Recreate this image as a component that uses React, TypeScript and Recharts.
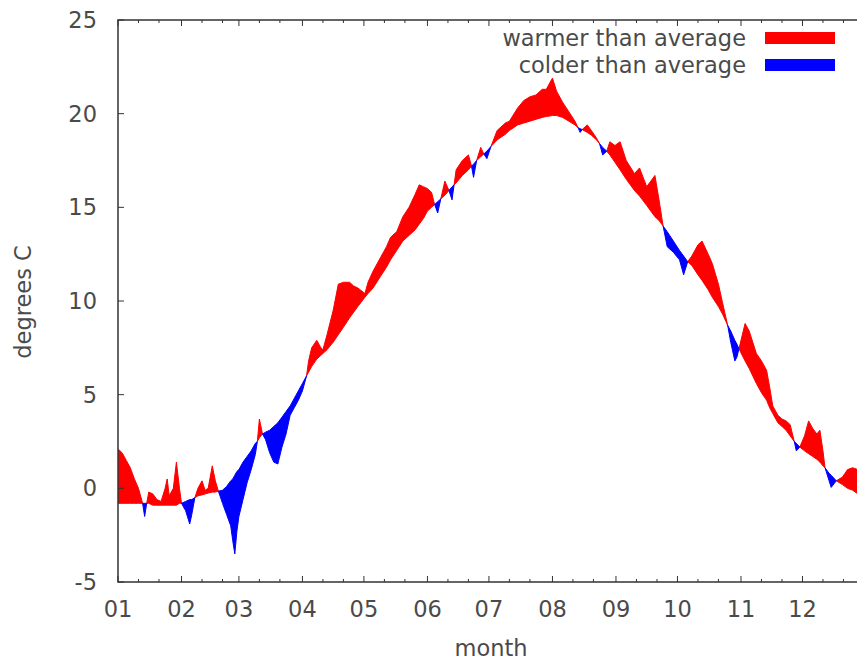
import { Area, ComposedChart, Legend, ReferenceArea, XAxis, YAxis } from "recharts";

// day of year (0 = 1 Jan), long-term average and observed temperature, degrees C
const dayOfYear = [
  0, 2, 4, 6, 8, 10, 12, 13, 14, 15, 17, 19, 21, 23, 24, 25, 27, 28.5, 30, 31,
  33, 35, 36, 37.5, 39, 41, 42.5, 44, 46, 47.5, 49, 51, 53, 55, 56, 57, 58, 59, 61, 63,
  65, 67, 68, 69, 70.5, 72, 74, 76, 78, 80, 82, 84, 86, 88, 90, 92, 93, 94.5, 97, 99,
  100, 102, 105, 107.5, 110, 113, 115, 117, 120.5, 122, 124.5, 128, 131, 133, 136, 139, 142, 145, 147, 149,
  151, 153, 154.5, 156, 157.5, 159.5, 161.5, 163, 164, 165, 168, 171, 172.5, 173.5, 175, 177, 178.5, 180, 182, 185,
  189, 191, 195, 198, 201, 204, 207, 209, 212, 214, 217, 220, 223, 224.5, 225.5, 226.5, 229, 231, 233.5, 235,
  236.5, 238.5, 240, 242.5, 245, 248, 252, 254.5, 258, 262, 264, 266, 268, 271, 274, 276, 278, 280, 283, 285,
  288, 290, 293, 295, 297.5, 299, 301, 302, 303, 306, 308, 311.5, 314, 316.5, 318, 319.5, 322, 324, 326, 328,
  330, 331, 332.7, 335, 337, 339, 341, 342.5, 344, 345, 347, 348, 350.5, 353.5, 356, 358.5, 361, 363, 365,
];

const averageTemp = [
  -0.8, -0.8, -0.8, -0.8, -0.8, -0.8, -0.8, -0.8, -0.8, -0.8, -0.9, -0.9, -0.9, -0.9, -0.9, -0.9, -0.9, -0.9, -0.8, -0.8,
  -0.7, -0.6, -0.6, -0.5, -0.4, -0.35, -0.3, -0.25, -0.2, -0.2, -0.15, -0.1, 0.1, 0.4, 0.5, 0.7, 0.9, 1.0, 1.4, 1.7,
  2.0, 2.4, 2.5, 2.7, 2.9, 3.0, 3.1, 3.3, 3.5, 3.8, 4.1, 4.4, 4.8, 5.2, 5.6, 6.0, 6.2, 6.5, 6.9, 7.1,
  7.2, 7.4, 7.8, 8.2, 8.6, 9.1, 9.4, 9.7, 10.2, 10.4, 10.7, 11.3, 11.8, 12.2, 12.7, 13.2, 13.5, 13.8, 14.1, 14.4,
  14.8, 15.0, 15.15, 15.3, 15.45, 15.65, 15.9, 16.1, 16.2, 16.3, 16.7, 17.0, 17.2, 17.3, 17.5, 17.7, 17.85, 18.0, 18.25, 18.6,
  18.9, 19.1, 19.4, 19.5, 19.6, 19.7, 19.8, 19.85, 19.9, 19.9, 19.8, 19.6, 19.4, 19.25, 19.2, 19.15, 19.0, 18.85, 18.6, 18.4,
  18.2, 18.0, 17.8, 17.4, 17.0, 16.5, 15.9, 15.6, 15.1, 14.5, 14.3, 14.0, 13.7, 13.2, 12.7, 12.4, 12.1, 11.9, 11.4, 11.1,
  10.6, 10.2, 9.7, 9.3, 8.7, 8.4, 7.9, 7.7, 7.45, 6.8, 6.4, 5.6, 5.1, 4.7, 4.3, 4.0, 3.5, 3.3, 3.1, 2.8,
  2.5, 2.4, 2.2, 2.0, 1.85, 1.7, 1.55, 1.4, 1.2, 1.1, 0.8, 0.7, 0.4, 0.2, 0.0, -0.1, -0.3, -0.35, -0.4,
];

const observedTemp = [
  2.1, 1.9, 1.5, 1.1, 0.5, 0.0, -0.8, -1.5, -0.8, -0.2, -0.3, -0.6, -0.7, 0.0, 0.5, -0.4, 0.0, 1.4, 0.0, -0.8,
  -1.2, -1.9, -1.4, -0.5, 0.0, 0.4, -0.1, 0.0, 1.2, 0.4, -0.15, -0.8, -1.4, -2.0, -2.8, -3.5, -2.3, -1.5, -0.6, 0.3,
  1.0, 1.8, 2.5, 3.7, 2.9, 2.6, 1.9, 1.4, 1.3, 2.2, 2.9, 3.9, 4.3, 4.7, 5.2, 6.0, 6.8, 7.5, 7.9, 7.5,
  7.4, 8.2, 9.5, 10.9, 11.0, 11.0, 10.8, 10.7, 10.4, 11.0, 11.6, 12.3, 12.9, 13.4, 13.7, 14.5, 15.0, 15.7, 16.2, 16.1,
  16.0, 15.8, 15.15, 14.7, 15.45, 16.4, 15.9, 15.4, 16.2, 17.0, 17.5, 17.8, 17.2, 16.6, 17.5, 18.2, 17.85, 17.6, 18.25, 19.1,
  19.5, 19.6, 20.3, 20.7, 20.9, 21.0, 21.3, 21.3, 21.9, 21.2, 20.6, 20.1, 19.6, 19.25, 19.0, 19.15, 19.4, 19.1, 18.7, 18.4,
  17.8, 18.0, 18.5, 18.3, 18.5, 17.5, 16.8, 17.1, 16.1, 16.7, 15.4, 14.0, 12.9, 12.6, 12.2, 11.4, 12.1, 12.4, 13.0, 13.2,
  12.5, 12.0, 10.9, 9.9, 8.7, 7.8, 6.8, 7.0, 7.45, 8.8, 8.4, 7.2, 6.8, 6.3, 5.4, 4.4, 3.9, 3.7, 3.6, 3.4,
  2.5, 2.0, 2.2, 2.8, 3.6, 3.2, 2.9, 3.1, 2.0, 1.1, 0.4, 0.05, 0.4, 0.6, 1.0, 1.1, 1.0, 0.8, 0.6,
];

const monthStarts = [0, 31, 59, 90, 120, 151, 181, 212, 243, 273, 304, 334];
const monthLabels = ["01", "02", "03", "04", "05", "06", "07", "08", "09", "10", "11", "12"];
const yTicks = [-5, 0, 5, 10, 15, 20, 25];
const legendOrder = ["warmer than average", "colder than average"];

const FONT = '"DejaVu Sans", Verdana, sans-serif';
const FONT_SIZE = 22.5;
const TEXT = "#4a4a4a";
const BORDER = "#333333";
const WARM = "#ff0000";
const COLD = "#0000ff";

const CHART_W = 900;
const CHART_H = 661;
const PLOT_LEFT = 118;
const PLOT_TOP = 20;
const PLOT_BOTTOM = 582;

const rows = dayOfYear.map((day, i) => {
  const avg = averageTemp[i];
  const t = observedTemp[i];
  return {
    day,
    warmer: t >= avg ? [avg, t] : null,
    colder: t <= avg ? [t, avg] : null,
  };
});

const minorTicks = monthStarts.flatMap((d) => [d + 10, d + 20]);
const xTicks = [...monthStarts, ...minorTicks].sort((a, b) => a - b);

function MonthTick({ x, payload }: any) {
  const idx = monthStarts.indexOf(payload.value);
  const len = idx >= 0 ? 6 : 3;
  return (
    <g>
      <line x1={x} x2={x} y1={PLOT_BOTTOM} y2={PLOT_BOTTOM - len} stroke={BORDER} />
      <line x1={x} x2={x} y1={PLOT_TOP} y2={PLOT_TOP + len} stroke={BORDER} />
      {idx >= 0 && (
        <text x={x} y={601} dy="0.71em" textAnchor="middle" fill={TEXT} fontFamily={FONT} fontSize={FONT_SIZE}>
          {monthLabels[idx]}
        </text>
      )}
    </g>
  );
}

function TempTick({ y, payload }: any) {
  return (
    <g>
      <line x1={PLOT_LEFT} x2={PLOT_LEFT + 6} y1={y} y2={y} stroke={BORDER} />
      <text x={PLOT_LEFT - 21} y={y} dy="0.355em" textAnchor="end" fill={TEXT} fontFamily={FONT} fontSize={FONT_SIZE}>
        {payload.value}
      </text>
    </g>
  );
}

function LegendBox({ payload }: any) {
  const items = [...(payload ?? [])].sort(
    (a: any, b: any) => legendOrder.indexOf(a.value) - legendOrder.indexOf(b.value)
  );
  return (
    <div style={{ fontFamily: FONT, fontSize: FONT_SIZE, color: TEXT }}>
      {items.map((entry: any) => (
        <div
          key={entry.value}
          style={{ display: "flex", justifyContent: "flex-end", alignItems: "center", height: 27 }}
        >
          <span>{entry.value}</span>
          <span style={{ width: 70, height: 12, background: entry.color, marginLeft: 19 }} />
        </div>
      ))}
    </div>
  );
}

export default function App() {
  return (
    <div
      style={{
        position: "absolute",
        left: 0,
        top: 0,
        width: 857,
        height: 661,
        overflow: "hidden",
        background: "#fff",
      }}
    >
      <ComposedChart
        width={CHART_W}
        height={CHART_H}
        data={rows}
        margin={{ top: PLOT_TOP, right: 34, bottom: 0, left: 0 }}
      >
        <XAxis
          dataKey="day"
          type="number"
          domain={[0, 365]}
          ticks={xTicks}
          interval={0}
          height={CHART_H - PLOT_BOTTOM}
          axisLine={false}
          tickLine={false}
          tick={MonthTick}
          label={() => (
            <text x={491} y={656} textAnchor="middle" fill={TEXT} fontFamily={FONT} fontSize={FONT_SIZE}>
              month
            </text>
          )}
        />
        <YAxis
          type="number"
          domain={[-5, 25]}
          ticks={yTicks}
          interval={0}
          width={PLOT_LEFT}
          axisLine={false}
          tickLine={false}
          tick={TempTick}
          label={() => (
            <text
              x={23}
              y={302}
              transform="rotate(-90 23 302)"
              dominantBaseline="central"
              textAnchor="middle"
              fill={TEXT}
              fontFamily={FONT}
              fontSize={FONT_SIZE}
            >
              degrees C
            </text>
          )}
        />
        <Area
          type="linear"
          dataKey="warmer"
          name="warmer than average"
          fill={WARM}
          fillOpacity={1}
          stroke={WARM}
          strokeWidth={1}
          dot={false}
          activeDot={false}
          isAnimationActive={false}
        />
        <Area
          type="linear"
          dataKey="colder"
          name="colder than average"
          fill={COLD}
          fillOpacity={1}
          stroke={COLD}
          strokeWidth={1}
          dot={false}
          activeDot={false}
          isAnimationActive={false}
        />
        <ReferenceArea x1={0} x2={365} y1={-5} y2={25} fill="none" stroke={BORDER} strokeWidth={1.5} />
        <Legend
          layout="vertical"
          align="center"
          verticalAlign="middle"
          content={LegendBox}
          wrapperStyle={{ left: 435, top: 24, width: 400 }}
        />
      </ComposedChart>
    </div>
  );
}
